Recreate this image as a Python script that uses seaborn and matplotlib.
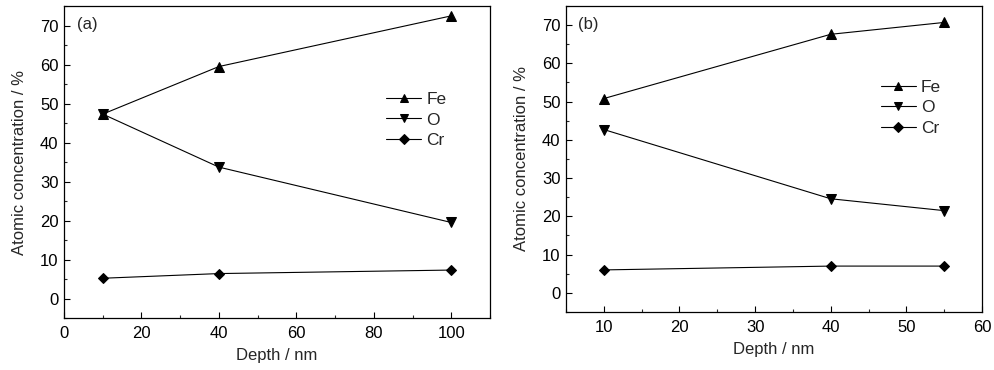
import matplotlib
matplotlib.use("Agg")
import matplotlib.pyplot as plt
import pandas as pd
import seaborn as sns
from matplotlib.ticker import MultipleLocator

# Panel (a)
depth_a = [10, 40, 100]
fe_a = [47.3, 59.5, 72.5]
o_a = [47.3, 33.7, 19.5]
cr_a = [5.2, 6.4, 7.3]

# Panel (b)
depth_b = [10, 40, 55]
fe_b = [50.8, 67.6, 70.7]
o_b = [42.7, 24.6, 21.5]
cr_b = [6.0, 7.0, 7.0]

elements = ["Fe", "O", "Cr"]
markers = {"Fe": "^", "O": "v", "Cr": "D"}
sizes = {"Fe": 7, "O": 7, "Cr": 5.5}


def to_long(depth, fe, o, cr):
    rows = []
    for name, vals in zip(elements, [fe, o, cr]):
        for d, v in zip(depth, vals):
            rows.append({"Depth": d, "Conc": v, "Element": name})
    return pd.DataFrame(rows)


sns.set_style("ticks")
plt.rcParams["font.family"] = ["Liberation Sans", "DejaVu Sans"]
plt.rcParams["xtick.direction"] = "in"
plt.rcParams["ytick.direction"] = "in"

fig = plt.figure(figsize=(9.94, 3.70), dpi=100)
ax_a = fig.add_axes([0.0644, 0.1405, 0.4286, 0.843])
ax_b = fig.add_axes([0.5694, 0.1568, 0.4185, 0.827])

panels = [
    (ax_a, to_long(depth_a, fe_a, o_a, cr_a), "(a)", (0, 110), 20, 10, 0.635),
    (ax_b, to_long(depth_b, fe_b, o_b, cr_b), "(b)", (5, 60), 10, 5, 0.667),
]

for ax, df, tag, xlim, xmaj, xmin, leg_y in panels:
    for name in elements:
        sub = df[df["Element"] == name]
        sns.lineplot(
            data=sub, x="Depth", y="Conc", ax=ax,
            color="black", linewidth=0.8,
            marker=markers[name], markersize=sizes[name],
            markeredgecolor="black", markerfacecolor="black",
            label=name,
        )
    ax.set_xlim(*xlim)
    ax.set_ylim(-5, 75)
    ax.xaxis.set_major_locator(MultipleLocator(xmaj))
    ax.xaxis.set_minor_locator(MultipleLocator(xmin))
    ax.yaxis.set_major_locator(MultipleLocator(10))
    ax.yaxis.set_minor_locator(MultipleLocator(5))
    ax.tick_params(which="major", length=4, width=0.8, labelsize=12, colors="black")
    ax.tick_params(which="minor", length=2.5, width=0.8)
    ax.tick_params(axis="y", pad=4)
    ax.tick_params(axis="x", pad=6)
    for s in ax.spines.values():
        s.set_linewidth(0.9)
        s.set_color("black")
    ax.set_xlabel("Depth / nm", fontsize=12, labelpad=5)
    ax.set_ylabel("Atomic concentration / %", fontsize=12, labelpad=9)
    ax.text(0.03, 0.965, tag, transform=ax.transAxes, fontsize=12, va="top", ha="left")
    ax.legend(
        loc="center left", bbox_to_anchor=(0.72, leg_y), frameon=False,
        fontsize=12.5, handlelength=2.0, handletextpad=0.3, labelspacing=0.3,
        markerscale=0.85,
    )

fig.savefig("out.png", dpi=100)
